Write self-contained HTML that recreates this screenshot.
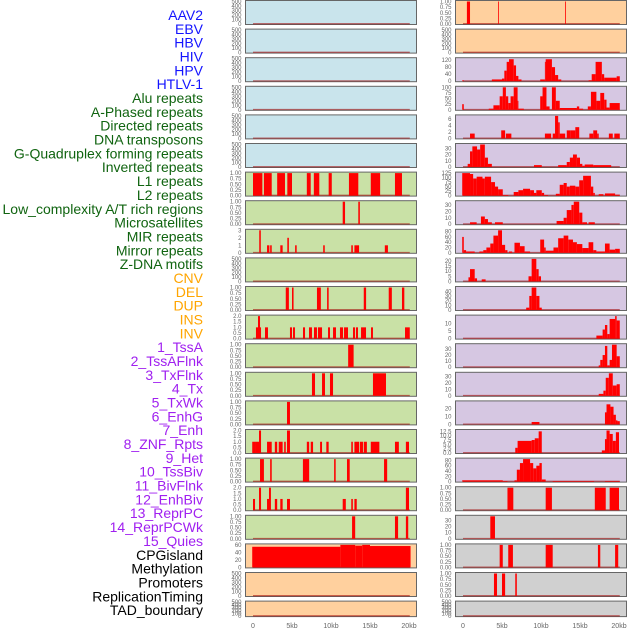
<!DOCTYPE html>
<html><head><meta charset="utf-8"><style>
html,body{margin:0;padding:0;background:#fff;}
svg{display:block;font-family:"Liberation Sans",sans-serif;}
</style></head><body>
<svg id="chart" width="630" height="630" viewBox="0 0 630 630"></svg>
<script>
const labels=["AAV2","EBV","HBV","HIV","HPV","HTLV-1","Alu repeats","A-Phased repeats","Directed repeats","DNA transposons","G-Quadruplex forming repeats","Inverted repeats","L1 repeats","L2 repeats","Low_complexity A/T rich regions","Microsatellites","MIR repeats","Mirror repeats","Z-DNA motifs","CNV","DEL","DUP","INS","INV","1_TssA","2_TssAFlnk","3_TxFlnk","4_Tx","5_TxWk","6_EnhG","7_Enh","8_ZNF_Rpts","9_Het","10_TssBiv","11_BivFlnk","12_EnhBiv","13_ReprPC","14_ReprPCWk","15_Quies","CPGisland","Methylation","Promoters","ReplicationTiming","TAD_boundary"];
const labelGroups=[6,13,5,15,5];
const groupColors=["#1414ff","#106410","#ffa500","#a020f0","#000000"];
const xTicks=[0,5,10,15,20];
const xTickLabels=["0","5kb","10kb","15kb","20kb"];
const leftBg=["b","b","b","b","b","b","g","g","g","g","g","g","g","g","g","g","g","g","g","o","o","o"];
const rightBg=["o","o","p","p","p","p","p","p","p","p","p","p","p","p","p","p","p","g2","g2","g2","g2","g2"];
const leftMax=[500,500,500,500,500,500,1,1,3,500,1,2,1,1,1,2,1,2,1,60,500,500];
const leftStep=[100,100,100,100,100,100,0.25,0.25,1,100,0.25,0.5,0.25,0.25,0.25,0.5,0.25,0.5,0.25,20,100,100];
const rightMax=[1,500,128,100,7,36,125,35,85,22,48,14.9,37,35,28,13,85,1,37,1,1,500];
const rightStep=[0.25,100,40,25,2,10,25,10,20,5,10,5,10,10,10,2.5,20,0.25,10,0.25,0.25,100];
const leftSegs=[[],[],[],[],[],[],
[[0,1.2,1],[1.4,2.4,1],[3.1,4.1,1],[4.4,5.0,1],[6.9,7.4,1],[7.8,8.5,1],[9.7,10.1,1],[12.3,13.5,1],[15.1,16.3,1],[18.2,19.1,1]],
[[11.5,11.8,1],[13.5,13.7,1]],
[[0.8,1.0,3],[1.8,2.1,1],[2.2,2.4,1],[3.5,3.8,1],[4.4,4.6,2],[5.4,5.6,1],[9.0,9.2,1],[12.6,12.8,1],[13.0,13.6,1],[16.9,17.3,1]],
[],
[[4.2,4.6,1],[5.0,5.2,1],[8.2,8.7,1],[9.5,9.7,1],[14.2,14.5,1],[17.4,17.8,1],[19.1,19.4,1]],
[[0.38,0.64,1],[0.64,0.9,2],[0.9,1.03,1],[1.54,1.92,1],[4.74,5.0,1],[5.13,5.38,1],[6.41,6.67,1],[7.18,7.56,1],[7.82,8.2,1],[8.33,8.85,1],[9.62,9.87,1],[10.26,10.64,1],[11.15,11.54,1],[11.67,12.18,1],[12.82,13.08,1],[13.2,13.46,1],[13.85,14.49,1],[15.13,15.38,1],[19.49,20.1,1]],
[[12.2,12.9,1]],
[[7.56,7.95,1],[8.85,9.23,1],[9.87,10.26,1],[15.38,17.05,1]],
[[4.36,4.74,1]],
[[-0.1,0.26,1],[0.26,0.77,1],[0.77,1.03,2],[1.8,2.4,1],[2.8,3.1,1],[3.3,3.8,1],[4.0,4.2,1],[4.36,4.74,2],[6.9,7.2,1],[7.4,7.7,1],[8.6,8.85,1],[9.4,9.7,1],[12.6,12.8,1],[13.0,13.6,1],[13.7,14.1,1],[14.2,14.6,1],[15.1,16.2,1],[18.2,18.7,1],[19.6,20.0,1]],
[[0.9,1.4,1],[2.2,2.4,1],[6.4,7.2,1],[10.4,10.6,1],[12.05,12.4,1],[16.8,17.2,1]],
[[0,0.26,1],[0.77,1.03,2],[1.8,2.05,1],[2.05,2.3,2],[2.8,3.1,1],[3.5,3.8,1],[4.36,4.74,1],[11.5,11.9,1],[12.6,12.8,1],[13.0,13.3,1],[19.6,20.0,2]],
[[12.7,13.1,1],[18.2,18.6,1],[19.6,19.9,1]],
[[-0.1,11.2,55],[11.2,13.1,60],[13.1,14,58],[14,15,60],[15,20.2,57]],
[],[]];
const rightSegs=[
[[0.5,0.9,1],[4.5,4.6,1],[13.1,13.2,1]],
[],
[[-0.1,0.1,5],[3.7,5.0,10],[5.0,5.3,15],[5.3,5.6,60],[5.6,5.9,110],[5.9,6.5,125],[6.5,6.8,90],[6.8,7.1,30],[7.1,7.5,10],[9.9,10.5,10],[10.5,10.6,110],[10.6,11.4,125],[11.4,11.8,80],[11.8,12.2,35],[12.2,12.6,10],[16.1,16.5,5],[16.5,17.0,40],[17.0,17.8,110],[17.8,18.1,40],[18.1,19.7,20],[19.7,20.1,28]],
[[-0.1,0.1,25],[3.3,3.9,5],[3.9,4.7,20],[4.7,5.1,60],[5.1,5.5,100],[5.5,5.8,60],[5.8,6.1,30],[6.1,6.5,60],[6.5,7.0,100],[7.0,7.1,40],[7.1,7.8,5],[9.9,10.2,60],[10.2,10.7,100],[10.7,11.1,15],[11.4,11.9,100],[11.9,12.4,40],[12.4,14.6,8],[14.6,14.9,15],[14.9,15.4,5],[16.0,16.4,15],[16.4,17.1,80],[17.1,17.6,40],[17.6,18.1,75],[18.1,18.4,45],[18.4,18.8,10],[18.8,20.1,30]],
[[0.9,1.5,1.5],[4.9,5.4,2.5],[5.5,6.2,1.5],[10.5,11.3,1.5],[11.5,11.8,1.5],[11.8,12.2,7],[12.2,12.4,5],[12.4,13.1,1.5],[13.3,13.8,2.5],[13.8,14.4,2.5],[14.4,14.9,3.5],[16.2,16.7,1.5],[16.7,17.2,2.5],[17.2,17.4,1.5],[18.7,19.2,1.5],[19.4,20.1,1.5]],
[[0.6,0.9,5],[0.9,1.2,25],[1.2,1.8,33],[1.8,2.2,28],[2.2,2.8,36],[2.8,3.2,15],[3.2,3.7,5],[9.1,10.1,3],[12.2,13.3,3],[13.3,13.7,8],[13.7,14.1,15],[14.1,14.6,20],[14.6,15.0,15],[15.0,15.3,5],[15.3,15.6,2],[15.6,16.7,4],[16.7,19.0,3]],
[[-0.1,0.9,125],[0.9,1.3,120],[1.3,1.75,95],[1.75,2.5,105],[2.5,2.8,95],[2.8,3.6,105],[3.6,4.1,75],[4.1,4.5,50],[4.5,5.1,35],[5.1,5.8,3],[6.5,7.1,20],[7.1,7.7,30],[7.7,8.6,38],[8.6,9.1,30],[9.1,9.4,15],[9.4,10.1,30],[10.1,10.4,15],[10.4,10.9,3],[11.9,12.4,10],[12.4,12.9,60],[12.9,13.3,70],[13.3,13.7,50],[13.7,14.4,55],[14.4,14.9,50],[14.9,15.4,85],[15.4,16.4,110],[16.4,16.7,50],[16.7,16.9,15],[17.4,18.0,8],[18.2,19.5,12],[19.5,20.1,5]],
[[0.9,1.75,3],[2.3,2.8,12],[2.8,3.2,8],[3.2,3.7,3],[4.1,5.1,3],[12.0,12.9,5],[12.9,13.3,10],[13.3,13.9,22],[13.9,14.2,30],[14.2,14.9,35],[14.9,15.3,18],[15.3,15.9,3],[16.1,16.9,3]],
[[-0.1,0.1,60],[0.1,0.4,10],[0.4,1.5,5],[2.1,2.6,5],[2.6,3.0,10],[3.0,3.5,20],[3.5,3.9,35],[3.9,4.5,65],[4.5,5.0,85],[5.0,5.4,30],[5.4,5.7,10],[5.9,6.3,5],[6.6,7.3,38],[7.3,7.9,25],[7.9,8.6,5],[9.9,10.4,50],[10.4,10.6,20],[10.6,11.6,8],[11.6,12.2,20],[12.2,12.9,55],[12.9,13.5,65],[13.5,14.1,50],[14.1,14.6,40],[14.6,15.3,33],[15.3,16.1,18],[16.1,16.7,40],[16.7,17.1,10],[17.1,18.2,5],[18.2,18.8,35],[18.8,19.5,12],[19.5,20.1,15]],
[[0.7,0.9,4],[0.9,1.5,12],[1.5,1.8,3],[2.4,2.9,2],[8.4,8.8,5],[8.8,9.4,22],[9.4,9.7,12],[9.7,10.0,5]],
[[8.1,8.5,5],[8.5,8.8,30],[8.8,9.4,48],[9.4,9.8,30],[9.8,10.1,5]],
[[17.1,17.9,2],[17.9,18.2,6],[18.2,18.5,9],[18.5,18.8,3],[18.8,19.5,13],[19.5,19.7,14.9],[19.7,20.1,12]],
[[17.4,17.6,3],[17.6,17.9,12],[17.9,18.2,20],[18.2,18.5,35],[18.5,18.8,3],[18.8,19.1,12],[19.1,19.7,37],[19.7,20.1,18]],
[[17.4,18.0,3],[18.0,18.3,8],[18.3,18.7,28],[18.7,19.2,35],[19.2,19.7,16],[19.7,20.1,18]],
[[8.8,9.8,3],[18.2,18.4,15],[18.4,18.9,25],[18.9,19.3,22],[19.3,19.6,12],[19.6,19.8,5],[19.8,20.1,4]],
[[6.7,7.0,3],[7.0,8.8,7],[8.8,9.2,7.5],[9.2,9.7,8.5],[9.7,10.1,12.5],[17.8,18.2,1.5],[18.2,18.4,8],[18.4,18.8,13],[18.8,19.2,11],[19.2,19.6,7],[19.6,20.0,12]],
[[-0.1,5.1,5],[5.1,5.7,2],[6.6,6.9,5],[6.9,7.3,45],[7.3,7.7,70],[7.7,8.6,85],[8.6,9.0,70],[9.0,9.4,50],[9.4,9.8,60],[9.8,10.1,70],[10.1,10.6,8],[11.5,16.8,2],[18.2,20.1,2]],
[[5.7,6.45,1],[10.6,11.4,1],[16.9,18.3,1],[18.8,20.0,1]],
[[3.5,4.1,37]],
[[4.7,5.1,1],[5.8,6.4,1],[10.6,11.5,1],[17.3,17.6,1],[19.5,19.9,1]],
[[3.97,4.36,1],[5.0,5.4,1],[6.7,6.9,1]],
[]];

const NS="http://www.w3.org/2000/svg";
const svg=document.getElementById('chart');
const bgColors={b:"#c9e4ec",g:"#c9e1a6",o:"#ffd09e",p:"#d6c7e2",g2:"#d0d0d0"};
const ROWS=22, ROW0=0.5, ROWSTEP=28.6, PH=24;
const KBPX=7.8;
function mk(tag,attrs){const e=document.createElementNS(NS,tag);for(const k in attrs)e.setAttribute(k,attrs[k]);svg.appendChild(e);return e;}
function rowTop(i){return ROW0+i*ROWSTEP;}
function rowH(i){return i===ROWS-1?15.5:PH;}
function fmt(v,step){const d=step===0.25?2:(step===0.5||step===2.5?1:0);return v.toFixed(d);}

// labels
let li=0;
labelGroups.forEach((n,g)=>{for(let k=0;k<n;k++){
  const t=mk('text',{x:203,y:15+li*13.84+5,'text-anchor':'end','font-size':'14',fill:groupColors[g]});
  t.textContent=labels[li];
  
  
  li++;}});

function drawColumn(side,px0,x0,bgs,maxes,steps,segs){
  const xs=kb=>x0+kb*KBPX;
  for(let i=0;i<ROWS;i++){
    const t=rowTop(i),h=rowH(i);
    const ys=v=>t+h-0.5-(v/maxes[i])*(h-1.5);
    const r=mk('rect',{x:px0,y:t,width:171,height:h,fill:bgColors[bgs[i]],stroke:'#666','stroke-width':1});
    
    
    // ticks
    for(let v=0;v<=maxes[i]+1e-9;v+=steps[i]){
      const tx=mk('text',{x:px0-4,y:ys(v)+2,'text-anchor':'end','font-size':'6',fill:'#666'});
      tx.textContent=fmt(v,steps[i]);
      
      
    }
    // baseline
    const bl=mk('line',{x1:xs(0),x2:xs(20.1),y1:t+h-0.8,y2:t+h-0.8,stroke:'rgba(160,0,0,0.55)','stroke-width':1.3});
    
    
    segs[i].forEach(s=>{
      const b=mk('rect',{x:xs(s[0]),y:ys(s[2]),width:Math.max(0.8,xs(s[1])-xs(s[0])),height:t+h-0.5-ys(s[2]),fill:'#ff0000'});
      
      
    });
  }
  xTicks.forEach((k,j)=>{
    const tx=mk('text',{x:xs(k),y:628,'text-anchor':'middle','font-size':'7',fill:'#666'});
    tx.textContent=xTickLabels[j];
    
    
  });
}
drawColumn('left',245.5,253,leftBg,leftMax,leftStep,leftSegs);
drawColumn('right',455.5,463,rightBg,rightMax,rightStep,rightSegs);
</script>
</body></html>
